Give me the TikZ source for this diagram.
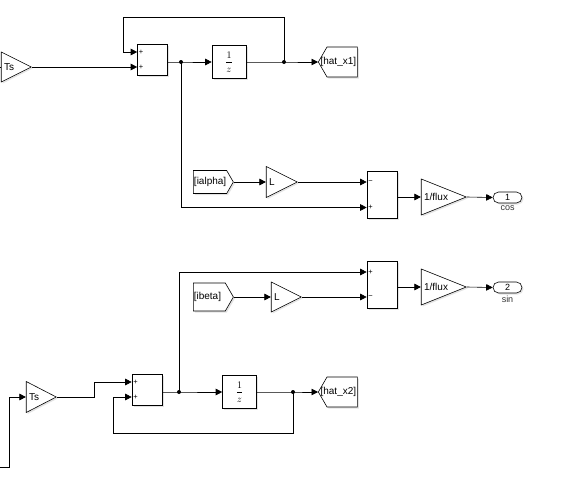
\documentclass[tikz,border=0pt]{standalone}
\usepackage{fontspec}
\setmainfont{Liberation Sans}
\usepackage{amsmath}
\usetikzlibrary{shapes.geometric, shapes.symbols, shapes.misc, arrows.meta, shadows}

\begin{document}
\begin{tikzpicture}[x=1pt, y=-1pt,
  font=\fontsize{10}{11}\selectfont,
  blk/.style={draw, fill=white, line width=0.6pt,
    drop shadow={opacity=0.22, shadow xshift=1.5pt, shadow yshift=-1.5pt}},
  sumblk/.style={blk, minimum width=30pt, inner sep=0pt},
  dly/.style={blk, minimum width=34pt, minimum height=33pt, inner sep=0pt,
    font=\fontsize{10}{11}\selectfont},
  % isosceles triangle: minimum height runs base to apex, minimum width along the base
  gain/.style={blk, isosceles triangle, isosceles triangle stretches,
    shape border rotate=0, inner sep=0pt, anchor=apex, label={[glabel]west:#1}},
  glabel/.style={anchor=west, inner sep=3pt},
  tag/.style={blk, signal, signal pointer angle=120, inner sep=0.5pt},
  port/.style={blk, rounded rectangle, minimum width=29pt, minimum height=11pt, inner sep=0pt,
    font=\fontsize{9}{10}\selectfont},
  plabel/.style={inner sep=2pt, text=black!80, font=\fontsize{9}{10}\selectfont},
  sgn/.style={font=\fontsize{7.5}{8}\selectfont, inner sep=0pt, anchor=west, xshift=1.5pt},
  sig/.style={line width=0.6pt, -{Triangle[length=6.5pt, width=6.5pt]}},
  wire/.style={line width=0.6pt},
  jct/.style={circle, fill=black, inner sep=0pt, minimum size=4pt}
]
\useasboundingbox (0,0) rectangle (576,477);

% upper integrator
\node[gain=Ts, minimum height=30pt, minimum width=30pt] (tsA) at (32,67) {};
\node[sumblk, minimum height=31pt] (sumA) at (152.5,59.5) {};
\coordinate (sumAi1) at ([yshift=7.5pt]sumA.west);
\coordinate (sumAi2) at ([yshift=-7.5pt]sumA.west);
\coordinate (sumAo) at ([yshift=-2.5pt]sumA.east);
\node[sgn] (sA1) at (sumAi1) {+};
\node[sgn] (sA2) at (sumAi2) {+};
\node[jct] (jA) at (181,62) {};
\node[dly] (delayA) at (229,62) {$\dfrac{1}{z}$};
\node[jct] (jB) at (284,62) {};
\node[tag, signal to=west, minimum width=39pt, minimum height=30pt, anchor=west] (gotoA) at (318,62) {\makebox[28pt][r]{[hat\_x1]}};
\coordinate (inA) at (0,67);
\coordinate (fbA) at (123,17);

% cos branch
\node[tag, signal to=east, minimum width=40pt, minimum height=23pt, anchor=west] (fromA) at (193,182) {\makebox[32pt][l]{[ialpha]}};
\node[gain=L, minimum height=31pt, minimum width=31pt] (gainLA) at (298,182) {};
\node[sumblk, minimum height=47pt] (sumB) at (382,194.5) {};
\coordinate (sumBi1) at ([yshift=12.5pt]sumB.west);
\coordinate (sumBi2) at ([yshift=-13pt]sumB.west);
\coordinate (sumBo) at ([yshift=-2.5pt]sumB.east);
\node[sgn] (sB1) at (sumBi1) {−};
\node[sgn] (sB2) at (sumBi2) {+};
\node[gain=1/flux, minimum height=45pt, minimum width=36pt] (fluxA) at (467,197) {};
\node[port, label={[plabel]below:cos}] (outA) at (507.5,197.5) {1};

% sin branch
\node[tag, signal to=east, minimum width=40pt, minimum height=28pt, anchor=west] (fromB) at (193,297) {\makebox[31pt][l]{[ibeta]}};
\node[gain=L, minimum height=30pt, minimum width=30pt] (gainLB) at (302,297) {};
\node[sumblk, minimum height=47pt] (sumC) at (382,284.5) {};
\coordinate (sumCi1) at ([yshift=12.5pt]sumC.west);
\coordinate (sumCi2) at ([yshift=-12.5pt]sumC.west);
\coordinate (sumCo) at ([yshift=-2.5pt]sumC.east);
\node[sgn] (sC1) at (sumCi1) {+};
\node[sgn] (sC2) at (sumCi2) {−};
\node[gain=1/flux, minimum height=45pt, minimum width=36pt] (fluxB) at (467,287) {};
\node[port, label={[plabel]below:sin}] (outB) at (507.5,287.5) {2};

% lower integrator
\node[gain=Ts, minimum height=30pt, minimum width=31pt] (tsB) at (57,397) {};
\node[sumblk, minimum height=31pt] (sumD) at (147,389.5) {};
\coordinate (sumDi1) at ([yshift=7.5pt]sumD.west);
\coordinate (sumDi2) at ([yshift=-7.5pt]sumD.west);
\coordinate (sumDo) at ([yshift=-2.5pt]sumD.east);
\node[sgn] (sD1) at (sumDi1) {+};
\node[sgn] (sD2) at (sumDi2) {+};
\node[jct] (jC) at (179,392) {};
\node[dly] (delayB) at (239.5,392) {$\dfrac{1}{z}$};
\node[jct] (jD) at (293,392) {};
\node[tag, signal to=west, minimum width=39pt, minimum height=30pt, anchor=west] (gotoB) at (318,392) {\makebox[28pt][r]{[hat\_x2]}};
\coordinate (inB) at (0,467);
\coordinate (bendB) at (9,397);
\coordinate (bendC) at (94,382);
\coordinate (fbB) at (113,433);

% connectors
\draw[wire] (inA) -- (tsA.lower side);
\draw[sig] (tsA.apex) -- (sumAi2);
\draw[sig] (sumAo) -- (jA.center) -- (delayA.west);
\draw[sig] (delayA.east) -- (jB.center) -- (gotoA.west);
\draw[sig] (jB.center) |- (fbA) |- (sumAi1);
\draw[sig] (jA.center) |- (sumBi2);
\draw[sig] (fromA.east) -- (gainLA.lower side);
\draw[sig] (gainLA.apex) -- (sumBi1);
\draw[sig] (sumBo) -- (fluxA.lower side);
\draw[sig] (fluxA.apex) -- (outA.west);

\draw[sig] (inB) -| (bendB) -- (tsB.lower side);
\draw[sig] (tsB.apex) -| (bendC) -- (sumDi1);
\draw[sig] (sumDo) -- (jC.center) -- (delayB.west);
\draw[sig] (delayB.east) -- (jD.center) -- (gotoB.west);
\draw[sig] (jD.center) |- (fbB) |- (sumDi2);
\draw[sig] (jC.center) |- (sumCi1);
\draw[sig] (fromB.east) -- (gainLB.lower side);
\draw[sig] (gainLB.apex) -- (sumCi2);
\draw[sig] (sumCo) -- (fluxB.lower side);
\draw[sig] (fluxB.apex) -- (outB.west);
\end{tikzpicture}
\end{document}
